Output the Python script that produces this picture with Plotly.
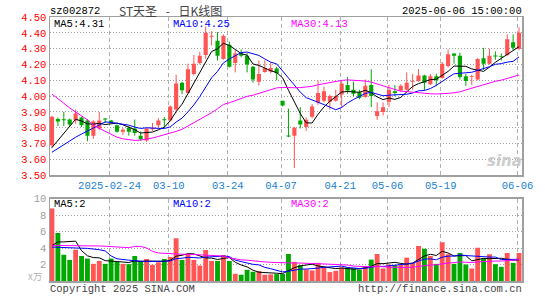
import numpy as np
import pandas as pd
import plotly.graph_objects as go

# ---------------- data ----------------
holidays = ["2025-04-04", "2025-05-01", "2025-05-02", "2025-05-05", "2025-06-02"]
dates = [d.strftime("%Y-%m-%d") for d in pd.bdate_range("2025-02-10", "2025-06-06")
         if d.strftime("%Y-%m-%d") not in holidays]

opens = [3.69, 3.855, 3.852, 3.852, 3.845, 3.865, 3.845, 3.75, 3.795, 3.856,
         3.845, 3.815, 3.775, 3.80, 3.795, 3.75, 3.72, 3.79, 3.815, 3.85,
         3.845, 3.915, 4.085, 4.02, 4.14, 4.21, 4.26, 4.375, 4.35, 4.235,
         4.325, 4.21, 4.27, 4.255, 4.185, 4.09, 4.152, 4.155, 4.175, 3.97,
         3.75, 3.75, 3.845, 3.805, 3.87, 3.96, 3.97, 3.965, 3.97, 4.01,
         4.07, 4.04, 4.025, 3.995, 4.07, 3.875, 3.90, 3.965, 4.03, 4.035,
         4.04, 4.09, 4.095, 4.13, 4.075, 4.125, 4.115, 4.19, 4.27, 4.255,
         4.125, 4.12, 4.105, 4.24, 4.205, 4.255, 4.25, 4.26, 4.34, 4.30]
highs = [3.875, 3.865, 3.90, 3.858, 3.915, 3.87, 3.855, 3.848, 3.90, 3.862,
         3.85, 3.82, 3.80, 3.81, 3.852, 3.777, 3.80, 3.83, 3.86, 3.867,
         3.94, 4.135, 4.09, 4.205, 4.26, 4.28, 4.44, 4.41, 4.405, 4.39,
         4.345, 4.29, 4.295, 4.272, 4.19, 4.225, 4.227, 4.215, 4.185, 3.97,
         3.92, 3.805, 3.93, 3.865, 3.95, 4.10, 4.06, 4.01, 4.04, 4.095,
         4.12, 4.09, 4.04, 4.105, 4.17, 3.96, 3.96, 4.07, 4.07, 4.075,
         4.15, 4.14, 4.17, 4.135, 4.14, 4.142, 4.215, 4.295, 4.27, 4.275,
         4.14, 4.135, 4.24, 4.305, 4.30, 4.283, 4.27, 4.39, 4.39, 4.435]
lows = [3.67, 3.81, 3.81, 3.81, 3.825, 3.805, 3.715, 3.73, 3.785, 3.83,
        3.83, 3.77, 3.755, 3.75, 3.75, 3.717, 3.71, 3.78, 3.795, 3.80,
        3.84, 3.895, 4.012, 4.02, 4.13, 4.20, 4.235, 4.32, 4.225, 4.23,
        4.18, 4.15, 4.245, 4.15, 4.085, 4.067, 4.148, 4.145, 4.10, 3.935,
        3.74, 3.545, 3.795, 3.78, 3.86, 3.945, 3.96, 3.915, 3.965, 3.925,
        4.015, 4.00, 3.98, 3.99, 3.93, 3.85, 3.877, 3.93, 4.00, 4.03,
        4.035, 4.04, 4.09, 4.035, 4.07, 4.062, 4.11, 4.18, 4.205, 4.105,
        4.065, 4.07, 4.10, 4.165, 4.20, 4.229, 4.225, 4.255, 4.29, 4.29]
closes = [3.87, 3.84, 3.848, 3.82, 3.89, 3.815, 3.75, 3.84, 3.845, 3.852,
          3.835, 3.775, 3.787, 3.775, 3.767, 3.728, 3.795, 3.80, 3.845, 3.847,
          3.935, 4.08, 4.037, 4.17, 4.205, 4.255, 4.40, 4.38, 4.255, 4.38,
          4.185, 4.27, 4.255, 4.20, 4.105, 4.14, 4.178, 4.178, 4.145, 3.94,
          3.745, 3.80, 3.82, 3.85, 3.935, 4.02, 4.03, 4.00, 4.00, 4.08,
          4.035, 4.015, 3.99, 4.065, 4.00, 3.905, 3.93, 4.04, 4.02, 4.065,
          4.085, 4.095, 4.13, 4.085, 4.125, 4.10, 4.205, 4.265, 4.255, 4.12,
          4.095, 4.125, 4.235, 4.205, 4.255, 4.25, 4.248, 4.36, 4.305, 4.40]
volumes = [8.8, 5.84, 3.2, 2.56, 3.8, 3.04, 2.72, 2.08, 2.44, 2.08,
           2.72, 2.32, 2.08, 2.04, 3.04, 2.32, 2.68, 1.96, 2.28, 2.68,
           2.92, 5.2, 2.56, 3.24, 2.56, 1.88, 3.76, 2.44, 2.44, 3.16,
           2.44, 0.88, 0.76, 1.36, 1.12, 1.2, 0.76, 0.8, 0.84, 0.84,
           3.28, 2.32, 1.92, 1.4, 1.28, 2.2, 1.72, 1.08, 1.24, 1.64,
           1.64, 1.56, 1.4, 1.72, 2.6, 3.28, 1.52, 2.0, 1.92, 1.96,
           2.84, 2.2, 4.24, 3.92, 3.04, 2.08, 4.72, 3.24, 2.08, 3.4,
           2.0, 1.52, 4.04, 2.76, 3.24, 2.04, 1.72, 3.4, 2.2, 3.4]

# moving-average values before enough history is on screen
ma5_head = [3.675, 3.72, 3.765, 3.81]
ma10_head = [3.645, 3.67, 3.695, 3.72, 3.74, 3.76, 3.78, 3.80, 3.82]
ma30_head = [4.012, 3.985, 3.955, 3.925, 3.90, 3.875, 3.85, 3.815, 3.795, 3.775,
             3.755, 3.74, 3.73, 3.725, 3.72, 3.722, 3.727, 3.735, 3.745, 3.755,
             3.765, 3.777, 3.79, 3.81, 3.83, 3.85, 3.87, 3.895, 3.92]
vma5_head = [4.3, 4.75, 4.75, 4.75]
vma10_head = [4.12, 4.08, 4.02, 4.0, 4.0, 3.98, 3.96, 3.9, 3.8]
vma30_head = [4.32, 4.32, 4.31, 4.30, 4.30, 4.29, 4.28, 4.27, 4.25, 4.22,
              4.18, 4.10, 4.05, 4.05, 4.20, 4.20, 4.0, 3.6, 3.4, 3.35,
              3.3, 3.25, 3.25, 3.25, 3.2, 3.2, 3.15, 3.1, 3.05]

tick_dates = ["2025-02-24", "2025-03-10", "2025-03-24", "2025-04-07",
              "2025-04-21", "2025-05-06", "2025-05-19", "2025-06-06"]
tick_labels = ["2025-02-24", "03-10", "03-24", "04-07", "04-21", "05-06", "05-19", "06-06"]
price_ticks = [3.5, 3.6, 3.7, 3.8, 3.9, 4.0, 4.1, 4.2, 4.3, 4.4, 4.5]
vol_ticks = [2, 4, 6, 8, 10]


def moving_average(vals, n, head):
    out = list(head)
    for i in range(n - 1, len(vals)):
        out.append(float(np.mean(vals[i - n + 1:i + 1])))
    return out


O = np.array(opens); H = np.array(highs); L = np.array(lows); C = np.array(closes)
V = np.array(volumes)
x = np.arange(len(closes))
up = C >= O
dn = ~up

ma5 = moving_average(closes, 5, ma5_head)
ma10 = moving_average(closes, 10, ma10_head)
ma30 = moving_average(closes, 30, ma30_head)
vma5 = moving_average(volumes, 5, vma5_head)
vma10 = moving_average(volumes, 10, vma10_head)
vma30 = moving_average(volumes, 30, vma30_head)

RED = "#ff5555"
GREEN = "#00a800"
MONO = "Liberation Mono"

fig = go.Figure()


def wick_xy(mask):
    xs, ys = [], []
    for i in np.where(mask)[0]:
        xs += [i, i, None]
        ys += [L[i], H[i], None]
    return xs, ys


for mask, col in [(up, RED), (dn, GREEN)]:
    wx, wy = wick_xy(mask)
    fig.add_trace(go.Scatter(x=wx, y=wy, mode="lines", line=dict(color=col, width=1),
                             hoverinfo="skip", xaxis="x", yaxis="y"))
    body = np.maximum(np.abs(C - O), 0.006)
    fig.add_trace(go.Bar(x=x[mask], y=body[mask], base=np.minimum(O, C)[mask],
                         width=0.7, marker=dict(color=col, line=dict(width=0)),
                         xaxis="x", yaxis="y"))
    fig.add_trace(go.Bar(x=x[mask], y=V[mask], width=0.82,
                         marker=dict(color=col, line=dict(width=0)),
                         xaxis="x2", yaxis="y2"))

for vals, col, ax in [(ma5, "#000000", "y"), (ma10, "#0000ff", "y"), (ma30, "#ff00ff", "y"),
                      (vma5, "#000000", "y2"), (vma10, "#0000ff", "y2"), (vma30, "#ff00ff", "y2")]:
    fig.add_trace(go.Scatter(x=x, y=vals, mode="lines", line=dict(color=col, width=1),
                             hoverinfo="skip", xaxis="x" if ax == "y" else "x2", yaxis=ax))

tick_pos = [dates.index(d) - 0.25 for d in tick_dates]

# pixel -> paper helpers (plot box 50..529 x 17..284)
W, Hh = 545, 300
ML, MR, MT, MB = 50, 16, 17, 16
PW, PH = W - ML - MR, Hh - MT - MB


def px(xp):
    return (xp - ML) / PW


def py(yp):
    return (Hh - MB - yp) / PH


main_bottom = py(177)
vol_top = py(200.7)

frame = dict(showline=True, linecolor="#a0a0a0", linewidth=1.5, mirror=True, zeroline=False,
             ticks="", fixedrange=True)

fig.update_layout(
    width=W, height=Hh, margin=dict(l=ML, r=MR, t=MT, b=MB),
    paper_bgcolor="white", plot_bgcolor="white", showlegend=False, barmode="overlay",
    hovermode=False,
    xaxis=dict(domain=[0, 1], range=[-1 / 3, 79.5], anchor="y", tickvals=tick_pos,
               ticktext=tick_labels, showgrid=True, gridcolor="#b0b0b0", griddash="4px,3px",
               gridwidth=1, tickfont=dict(family=MONO, size=10.5, color="#1a7fd0"), **frame),
    yaxis=dict(domain=[main_bottom, 1], range=[3.5, 4.5], anchor="x", tickvals=price_ticks,
               ticktext=[f"{v:.2f}" for v in price_ticks], showgrid=True, gridcolor="#a0a0a0",
               griddash="1px,2px", gridwidth=1,
               tickfont=dict(family=MONO, size=10.5, color="#ff0000"), **frame),
    xaxis2=dict(domain=[0, 1], range=[-1 / 3, 79.5], anchor="y2", matches="x", tickvals=tick_pos,
                showticklabels=False, showgrid=True, gridcolor="#b0b0b0", griddash="4px,3px",
                gridwidth=1, **frame),
    yaxis2=dict(domain=[0, vol_top], range=[0, 10], anchor="x2", tickvals=vol_ticks,
                ticktext=[str(v) for v in vol_ticks], showgrid=True, gridcolor="#a0a0a0",
                griddash="1px,2px", gridwidth=1,
                tickfont=dict(family=MONO, size=10.5, color="#a0a0a0"), **frame),
)


def note(text, xp, yp, color="#000000", anchor="left", size=10.5, family=MONO, **kw):
    fig.add_annotation(text=text, x=px(xp), y=py(yp), xref="paper", yref="paper",
                       xanchor=anchor, yanchor="middle", showarrow=False, borderpad=0,
                       font=dict(family=family, size=size, color=color), **kw)


note("sz002872", 49, 11)
note("ST天圣\u2002 -\u2002 日K线图", 172, 10, color="#444444", anchor="center", size=12,
     family="Noto Sans CJK SC")
note(dates[-1] + " 15:00:00", 530, 11, anchor="right")

note(f"MA5:{ma5[-1]:.2f}", 53, 24)
note(f"MA10:{ma10[-1]:.2f}", 174, 24, color="#0000ff")
note(f"MA30:{ma30[-1]:.2f}", 294, 24, color="#ff00ff")

note(f"MA5:{int(vma5[-1])}", 53, 206)
note(f"MA10:{int(vma10[-1])}", 174, 206, color="#0000ff")
note(f"MA30:{int(vma30[-1])}", 294, 206, color="#ff00ff")

note("x万", 43, 279, color="#b0b0b0", anchor="right", size=9.5, family="Noto Sans CJK SC")
note("Copyright 2025 SINA.COM", 49, 292, color="#444444")
note("http://finance.sina.com.cn", 530, 292, color="#444444", anchor="right")
note("<b><i>sina</i></b>", 511, 163, color="#cccccc", anchor="center", size=15, family="DejaVu Sans")

fig.write_html("out.html", config={"displayModeBar": False, "staticPlot": True},
               post_script="document.body.style.margin='0';")
